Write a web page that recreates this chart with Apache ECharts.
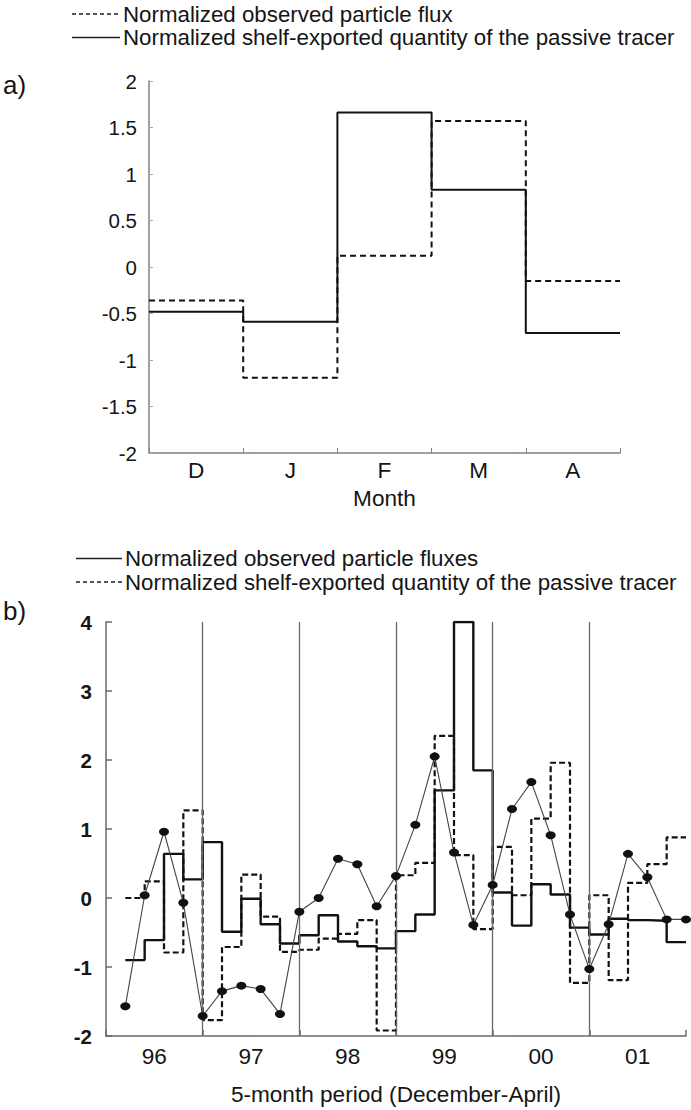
<!DOCTYPE html>
<html>
<head>
<meta charset="utf-8">
<script src="https://cdn.jsdelivr.net/npm/echarts@6/dist/echarts.min.js"></script>
<style>
html,body{margin:0;padding:0;background:#fff;}
#chart{width:691px;height:1110px;}
</style>
</head>
<body>
<div id="chart"></div>
<script>
// ---------- Panel a data ----------
const monthsA = ['D', 'J', 'F', 'M', 'A'];
const aObservedFlux = [-0.36, -1.19, 0.12, 1.57, -0.15];   // dashed
const aTracer = [-0.48, -0.59, 1.66, 0.83, -0.71];         // solid
const aYTicks = { min: -2, max: 2, interval: 0.5 };

// ---------- Panel b data ----------
const yearsB = ['96', '97', '98', '99', '00', '01'];
const monthsPerPeriod = 5;
// solid step: observed particle fluxes (monthly, starting at month 1)
const bObservedFluxes = [-0.90, -0.61, 0.64, 0.27, 0.81, -0.49, -0.01, -0.38, -0.66, -0.54,
  -0.25, -0.63, -0.70, -0.73, -0.48, -0.24, 1.56, 4.00, 1.85, 0.08,
  -0.40, 0.20, 0.05, -0.43, -0.53, -0.30, -0.32, -0.33, -0.64];
// dashed step: shelf-exported quantity of the passive tracer
const bTracer = [0.00, 0.24, -0.79, 1.27, -1.77, -0.71, 0.34, -0.27, -0.78, -0.75,
  -0.59, -0.52, -0.32, -1.92, 0.33, 0.51, 2.35, 0.62, -0.45, 0.74,
  0.04, 1.15, 1.96, -1.23, 0.04, -1.19, 0.22, 0.49, 0.88];
// line with dots
const bDots = [-1.57, 0.04, 0.96, -0.07, -1.71, -1.35, -1.27, -1.32, -1.68, -0.20,
  0.00, 0.57, 0.49, -0.12, 0.32, 1.06, 2.05, 0.66, -0.39, 0.19,
  1.29, 1.68, 0.91, -0.24, -1.03, -0.38, 0.64, 0.30, -0.31, -0.31];
const bYTicks = { min: -2, max: 4, interval: 1 };

// ---------- helpers ----------
function stepData(values, start) {
  const d = values.map((v, i) => [start + i, v]);
  d.push([start + values.length, values[values.length - 1]]);
  return d;
}
function pointData(values, start) {
  return values.map((v, i) => [start + i, v]);
}
const FONT = "'Liberation Sans', Arial, Helvetica, sans-serif";
const TXT = '#151515';
const AXC = '#808080';
const FS = 22.6;
const LFS = 22.3;
const totalB = yearsB.length * monthsPerPeriod;
const boundaries = [];
for (let k = 1; k < yearsB.length; k++) boundaries.push({ xAxis: k * monthsPerPeriod });

const chart = echarts.init(document.getElementById('chart'), null, { renderer: 'svg' });

function legendRow(x1, x2, y, dashed, label) {
  return [
    { type: 'line', shape: { x1: x1, y1: y, x2: x2, y2: y },
      style: { stroke: '#222', lineWidth: 1.6, lineDash: dashed ? [4, 3] : null } },
    { type: 'text', x: x2 + 3, y: y,
      style: { text: label, fill: TXT, font: LFS + 'px ' + FONT, verticalAlign: 'middle', align: 'left' } }
  ];
}

const option = {
  animation: false,
  backgroundColor: '#fff',
  textStyle: { fontFamily: FONT },
  graphic: [].concat(
    legendRow(72, 120, 14, true, 'Normalized observed particle flux'),
    legendRow(72, 120, 37.5, false, 'Normalized shelf-exported quantity of the passive tracer'),
    legendRow(76, 122, 558.5, false, 'Normalized observed particle fluxes'),
    legendRow(76, 122, 582, true, 'Normalized shelf-exported quantity of the passive tracer'),
    [
      { type: 'text', x: 3, y: 85, style: { text: 'a)', fill: TXT, font: '26px ' + FONT, verticalAlign: 'middle' } },
      { type: 'text', x: 3, y: 611, style: { text: 'b)', fill: TXT, font: '26px ' + FONT, verticalAlign: 'middle' } }
    ]
  ),
  grid: [
    { left: 149, top: 81, width: 471, height: 372 },
    { left: 106, top: 622, width: 580, height: 414 }
  ],
  xAxis: [
    { type: 'value', gridIndex: 0, position: 'top', min: 0, max: monthsA.length, show: false },
    { type: 'category', gridIndex: 0, position: 'bottom', data: monthsA, boundaryGap: true,
      axisLine: { lineStyle: { color: AXC, width: 1.5 } },
      axisTick: { show: true, inside: true, length: 5, alignWithLabel: false, lineStyle: { color: AXC } },
      axisLabel: { color: TXT, fontSize: FS, margin: 6 },
      name: 'Month', nameLocation: 'middle', nameGap: 34,
      nameTextStyle: { color: TXT, fontSize: FS } },
    { type: 'value', gridIndex: 1, position: 'top', min: 0, max: totalB, show: false },
    { type: 'category', gridIndex: 1, position: 'bottom', data: yearsB, boundaryGap: true,
      axisLine: { lineStyle: { color: '#6a6a6a', width: 1.5 } },
      axisTick: { show: true, inside: true, length: 6, alignWithLabel: false, lineStyle: { color: '#6a6a6a', width: 1.5 } },
      axisLabel: { color: TXT, fontSize: FS, margin: 9 },
      name: '5-month period (December-April)', nameLocation: 'middle', nameGap: 47,
      nameTextStyle: { color: TXT, fontSize: FS } }
  ],
  yAxis: [
    { type: 'value', gridIndex: 0, min: aYTicks.min, max: aYTicks.max, interval: aYTicks.interval,
      axisLine: { show: true, lineStyle: { color: AXC, width: 1.5 } },
      axisTick: { show: true, inside: true, length: 4, lineStyle: { color: '#aaa' } },
      axisLabel: { color: TXT, fontSize: 20.5, margin: 12, padding: [0, 0, 6, 0] },
      splitLine: { show: false } },
    { type: 'value', gridIndex: 1, min: bYTicks.min, max: bYTicks.max, interval: bYTicks.interval,
      axisLine: { show: true, lineStyle: { color: '#6a6a6a', width: 1.5 } },
      axisTick: { show: true, inside: true, length: 6, lineStyle: { color: '#6a6a6a', width: 1.5 } },
      axisLabel: { color: TXT, fontSize: 20.5, fontWeight: 'bold', margin: 14, padding: [0, 0, 4, 0] },
      splitLine: { show: false } }
  ],
  series: [
    { name: 'Normalized observed particle flux', type: 'line', xAxisIndex: 0, yAxisIndex: 0,
      step: 'end', data: stepData(aObservedFlux, 0), symbol: 'none',
      lineStyle: { color: '#111', width: 2, type: [6, 4] }, z: 3 },
    { name: 'Normalized shelf-exported quantity of the passive tracer', type: 'line', xAxisIndex: 0, yAxisIndex: 0,
      step: 'end', data: stepData(aTracer, 0), symbol: 'none',
      lineStyle: { color: '#111', width: 2 }, z: 4 },
    { name: 'Normalized observed particle fluxes', type: 'line', xAxisIndex: 2, yAxisIndex: 1,
      step: 'end', data: stepData(bObservedFluxes, 1), symbol: 'none',
      lineStyle: { color: '#111', width: 2.4 }, z: 4,
      markLine: { silent: true, symbol: 'none', label: { show: false },
        lineStyle: { color: '#6a6a6a', width: 1.3, type: 'solid' }, data: boundaries } },
    { name: 'Normalized shelf-exported quantity of the passive tracer (b)', type: 'line', xAxisIndex: 2, yAxisIndex: 1,
      step: 'end', data: stepData(bTracer, 1), symbol: 'none',
      lineStyle: { color: '#111', width: 2.2, type: [6, 3] }, z: 3 },
    { name: 'Dots', type: 'line', xAxisIndex: 2, yAxisIndex: 1,
      data: pointData(bDots, 1), symbol: 'circle', symbolSize: [10, 8], showSymbol: true,
      itemStyle: { color: '#111' },
      lineStyle: { color: '#444', width: 1.1 }, z: 5 }
  ]
};
chart.setOption(option);
</script>
</body>
</html>
